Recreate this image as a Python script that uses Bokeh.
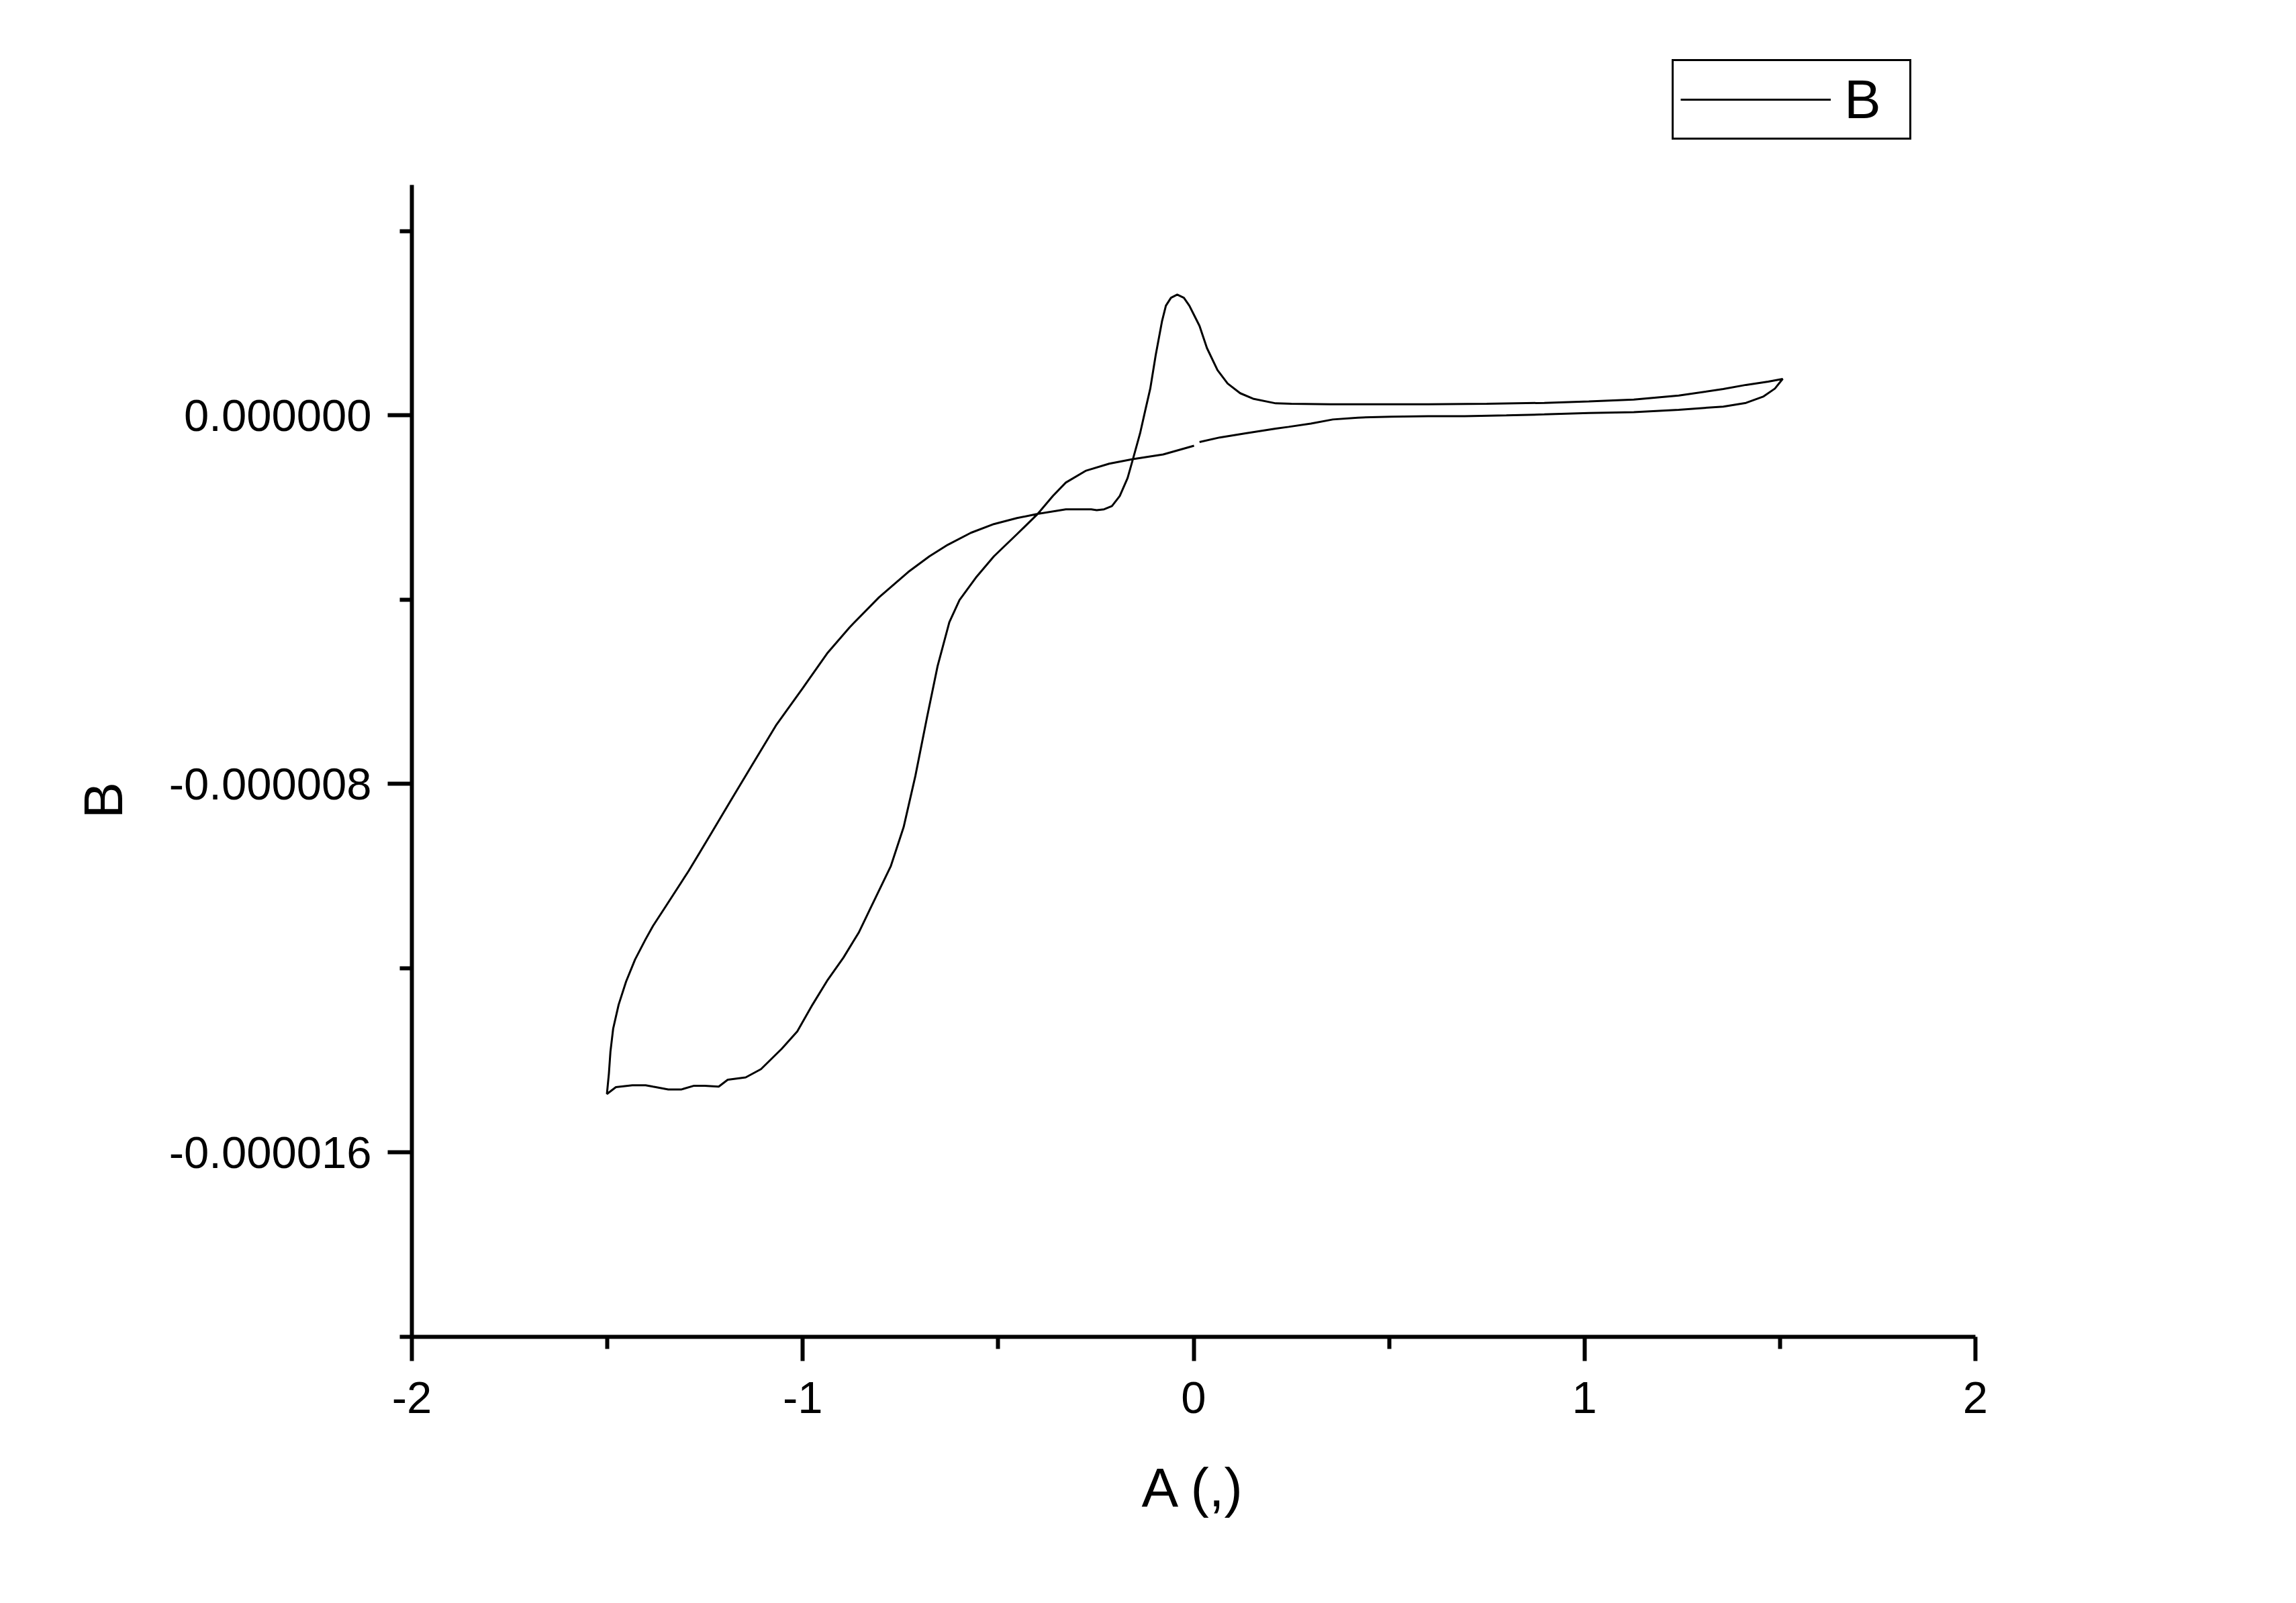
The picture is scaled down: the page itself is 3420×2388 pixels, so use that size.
from bokeh.plotting import figure
from bokeh.models import Range1d, FixedTicker, Legend, LegendItem, PrintfTickFormatter, Title
from bokeh.embed import file_html
from bokeh.resources import INLINE

# ---- data (potential A, current B) ----
# scan 1: from ~0 V along the lower right branch to the +1.5 V turning point
a_fwd = [0.015, 0.067, 0.133, 0.210, 0.243, 0.300, 0.356, 0.420, 0.506, 0.600, 0.693, 0.800,
         0.897, 1.011, 1.126, 1.241, 1.355, 1.413, 1.458, 1.487, 1.504, 1.507]
b_fwd = [-0.58e-6, -0.48e-6, -0.39e-6, -0.29e-6, -0.25e-6, -0.18e-6, -0.09e-6, -0.05e-6, -0.03e-6,
         -0.02e-6, -0.02e-6, 0.00e-6, 0.02e-6, 0.05e-6, 0.07e-6, 0.12e-6, 0.19e-6, 0.27e-6, 0.41e-6,
         0.58e-6, 0.76e-6, 0.79e-6]
# scan 2: back along the upper branch, over the peak, down to the -1.5 V turning point
a_rev = [1.470, 1.413, 1.355, 1.241, 1.126, 1.011, 0.897, 0.750, 0.600, 0.450, 0.350, 0.250, 0.210,
         0.152, 0.119, 0.087, 0.061, 0.034, 0.015, -0.011, -0.025, -0.042, -0.058, -0.071, -0.081,
         -0.097, -0.111, -0.124, -0.137, -0.153, -0.169, -0.189, -0.209, -0.229, -0.248, -0.262,
         -0.327, -0.399, -0.452, -0.511, -0.570, -0.629, -0.676, -0.730, -0.805, -0.880, -0.936,
         -1.000, -1.067, -1.124, -1.180, -1.236, -1.292, -1.350, -1.383, -1.402, -1.429, -1.452,
         -1.471, -1.485, -1.492, -1.496, -1.501]
b_rev = [0.73e-6, 0.66e-6, 0.57e-6, 0.43e-6, 0.34e-6, 0.30e-6, 0.27e-6, 0.25e-6, 0.24e-6, 0.24e-6,
         0.24e-6, 0.25e-6, 0.26e-6, 0.36e-6, 0.48e-6, 0.69e-6, 0.98e-6, 1.46e-6, 1.94e-6, 2.38e-6,
         2.55e-6, 2.62e-6, 2.55e-6, 2.38e-6, 2.04e-6, 1.31e-6, 0.58e-6, 0.10e-6, -0.39e-6, -0.88e-6,
         -1.36e-6, -1.75e-6, -1.97e-6, -2.04e-6, -2.06e-6, -2.04e-6, -2.04e-6, -2.14e-6, -2.23e-6,
         -2.36e-6, -2.55e-6, -2.81e-6, -3.06e-6, -3.40e-6, -3.95e-6, -4.60e-6, -5.15e-6, -5.92e-6,
         -6.71e-6, -7.51e-6, -8.30e-6, -9.10e-6, -9.89e-6, -10.65e-6, -11.08e-6, -11.37e-6,
         -11.81e-6, -12.29e-6, -12.79e-6, -13.31e-6, -13.81e-6, -14.29e-6, -14.73e-6]
# scan 3: from -1.5 V back up the inner branch to ~0 V
a_ret = [-1.478, -1.436, -1.402, -1.383, -1.344, -1.310, -1.278, -1.251, -1.215, -1.192, -1.146,
         -1.107, -1.054, -1.014, -0.975, -0.936, -0.896, -0.857, -0.824, -0.775, -0.742, -0.712,
         -0.682, -0.655, -0.625, -0.599, -0.555, -0.511, -0.452, -0.399, -0.360, -0.327, -0.275,
         -0.216, -0.156, -0.078, 0.001]
b_ret = [-14.58e-6, -14.54e-6, -14.54e-6, -14.57e-6, -14.63e-6, -14.63e-6, -14.55e-6, -14.55e-6,
         -14.57e-6, -14.42e-6, -14.37e-6, -14.19e-6, -13.75e-6, -13.37e-6, -12.79e-6, -12.25e-6,
         -11.77e-6, -11.23e-6, -10.65e-6, -9.79e-6, -8.94e-6, -7.83e-6, -6.55e-6, -5.44e-6,
         -4.49e-6, -4.01e-6, -3.50e-6, -3.06e-6, -2.58e-6, -2.14e-6, -1.75e-6, -1.46e-6, -1.20e-6,
         -1.05e-6, -0.95e-6, -0.85e-6, -0.66e-6]

x_limits = (-2, 2)
y_limits = (-20e-6, 5e-6)
x_major_ticks = [-2, -1, 0, 1, 2]
x_minor_ticks = [-1.5, -0.5, 0.5, 1.5]
y_major_ticks = [0.0, -8e-6, -16e-6]
y_minor_ticks = [4e-6, -4e-6, -12e-6, -20e-6]

x_title = "A (,)"
y_title = "B"
series_name = "B"

potential = a_fwd + a_rev + a_ret
current = b_fwd + b_rev + b_ret

FONT = "Liberation Sans"

# layout (pixels): axes box 613..2942 x 275..1991 on a 3404 x 2372 canvas.
W, H = 3404, 2372
LEFT, AX_TOP, AX_BOTTOM, AX_RIGHT = 613, 275, 1991, 2942
# the frame reaches the canvas top so that the legend (above the axes box) is not clipped;
# the y axis itself is limited to y_limits via its bounds.
units_per_px = (y_limits[1] - y_limits[0]) / (AX_BOTTOM - AX_TOP)
y_top = y_limits[1] + AX_TOP * units_per_px

p = figure(width=W, height=H, output_backend="svg", toolbar_location=None,
           x_range=Range1d(*x_limits), y_range=Range1d(y_limits[0], y_top),
           min_border_left=LEFT, min_border_right=W - AX_RIGHT, min_border_top=0,
           min_border_bottom=H - AX_BOTTOM)
p.outline_line_color = None
p.xgrid.visible = False
p.ygrid.visible = False
p.background_fill_color = "white"
p.border_fill_color = "white"

r = p.line(potential, current, line_color="black", line_width=3)

for ax in (p.xaxis[0], p.yaxis[0]):
    ax.axis_line_width = 6
    ax.axis_line_color = "black"
    ax.major_tick_line_width = 6
    ax.minor_tick_line_width = 6
    ax.major_tick_out = 36
    ax.major_tick_in = 0
    ax.minor_tick_out = 18
    ax.minor_tick_in = 0
    ax.major_label_text_font = FONT
    ax.major_label_text_font_size = "67px"
    ax.major_label_text_color = "black"
    ax.axis_label_text_font = FONT
    ax.axis_label_text_font_size = "82px"
    ax.axis_label_text_font_style = "normal"
    ax.axis_label_text_color = "black"

p.xaxis[0].ticker = FixedTicker(ticks=x_major_ticks, minor_ticks=x_minor_ticks)
p.yaxis[0].ticker = FixedTicker(ticks=y_major_ticks, minor_ticks=y_minor_ticks)
p.yaxis[0].bounds = y_limits
p.xaxis[0].formatter = PrintfTickFormatter(format="%d")
p.yaxis[0].formatter = PrintfTickFormatter(format="%.6f")
p.xaxis[0].axis_label = x_title
p.xaxis[0].major_label_standoff = 31
p.yaxis[0].major_label_standoff = 24
p.xaxis[0].axis_label_standoff = 62

# y title in the left panel, starting a little below the middle of the axes box
y_title_start_px = 1219
p.add_layout(Title(text=y_title, align="left", vertical_align="bottom",
                   offset=AX_BOTTOM - y_title_start_px, standoff=100,
                   text_font=FONT, text_font_size="82px", text_font_style="normal",
                   text_color="black"), "left")

legend = Legend(items=[LegendItem(label=series_name, renderers=[r])],
                location=(2490 - LEFT, AX_BOTTOM - 208), margin=0, padding=10,
                glyph_width=224, label_standoff=20, label_width=87,
                label_text_font=FONT, label_text_font_size="82px", label_text_color="black",
                border_line_color="black", border_line_width=3, border_line_alpha=1.0,
                background_fill_color="white", background_fill_alpha=1.0)
p.add_layout(legend)

open("out.html", "w").write(file_html(p, INLINE))
